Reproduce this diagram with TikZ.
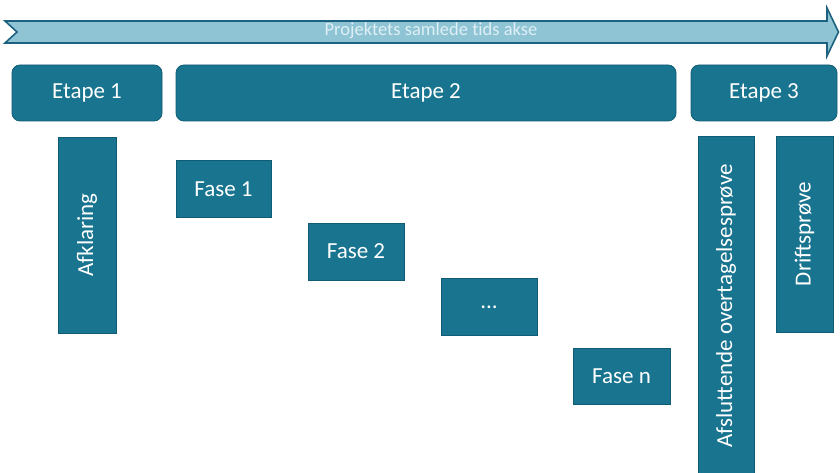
\documentclass[tikz,border=0pt]{standalone}
\usepackage{fontspec}
\setmainfont{Carlito}
\definecolor{boxteal}{RGB}{24,116,143}
\definecolor{boxedge}{RGB}{16,92,116}
\definecolor{axisfill}{RGB}{143,196,213}
\definecolor{axisedge}{RGB}{28,98,128}
\definecolor{axistext}{RGB}{222,239,245}
\begin{document}
\begin{tikzpicture}[
    x=1pt, y=-1pt,
    etape/.style={draw=boxedge, fill=boxteal, text=white, rounded corners=8pt, line width=0.8pt,
        minimum height=56pt, inner sep=0pt, font=\fontsize{23}{27}\selectfont},
    fase/.style={draw=boxedge, fill=boxteal, text=white, line width=0.6pt,
        minimum height=57pt, inner sep=0pt, font=\fontsize{23}{27}\selectfont},
    upright/.style={fase, rotate=90}
]
    \useasboundingbox (0,0) rectangle (840,473);

    % time axis
    \draw[axisedge, fill=axisfill, line width=1.6pt, line join=miter]
        (5,21) -- (827,21) -- (827,8) -- (838.5,32) -- (827,56) -- (827,43)
        -- (5,43) -- (17,32) -- cycle;
    \node[text=axistext, font=\fontsize{18.5}{20}\selectfont\addfontfeature{Ligatures=NoCommon}, inner sep=0pt] (axis) at (431,31) {Projektets samlede tids akse};

    \node[etape, minimum width=150pt] (etape1) at (87,93) {Etape 1};
    \node[etape, minimum width=500pt] (etape2) at (426,93) {Etape 2};
    \node[etape, minimum width=146pt] (etape3) at (764,93) {Etape 3};

    \node[upright, minimum width=196pt, minimum height=58pt] (afklaring) at (87,235) {Afklaring};

    \node[fase, minimum width=95pt] (fase1) at (223.5,189) {Fase 1};
    \node[fase, minimum width=96pt] (fase2) at (356,251.5) {Fase 2};
    \node[fase, minimum width=96pt] (fasedots) at (489,307) {...};
    \node[fase, minimum width=97pt, minimum height=56pt] (fasen) at (621.5,376) {Fase n};

    \node[upright, minimum width=340pt, minimum height=56pt] (afsluttende) at (726,306) {Afsluttende overtagelsesprøve};
    \node[upright, minimum width=196pt] (driftsprove) at (804.5,234) {Driftsprøve};
\end{tikzpicture}
\end{document}
